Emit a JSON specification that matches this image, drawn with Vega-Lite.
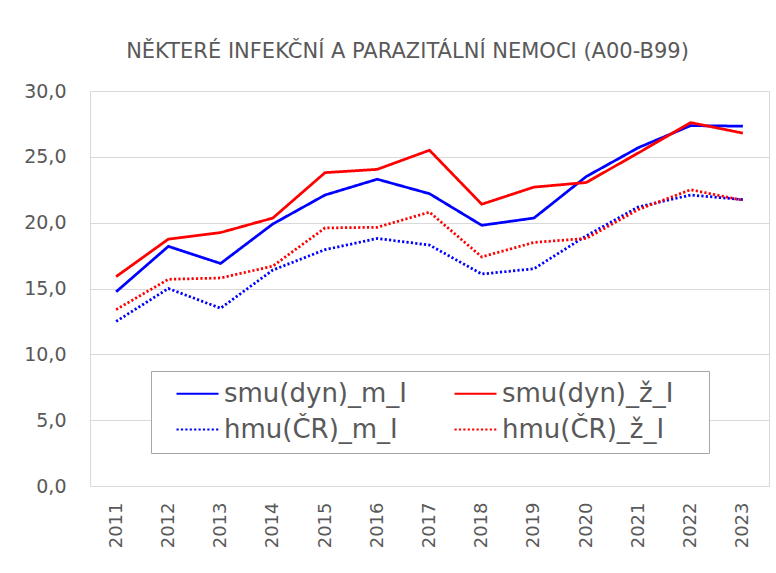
{
  "$schema": "https://vega.github.io/schema/vega-lite/v6.json",
  "width": 679,
  "height": 395,
  "autosize": {"type": "none"},
  "padding": {"left": 90, "top": 91, "right": 7, "bottom": 87},
  "background": "white",
  "title": {
    "text": "NĚKTERÉ INFEKČNÍ A PARAZITÁLNÍ NEMOCI (A00-B99)",
    "font": "DejaVu Sans",
    "fontSize": 21,
    "fontWeight": "normal",
    "color": "#595959",
    "anchor": "middle",
    "dx": -22,
    "offset": 20
  },
  "data": {
    "values": [
      {"year": "2011", "series": "smu(dyn)_m_I", "value": 14.75},
      {"year": "2012", "series": "smu(dyn)_m_I", "value": 18.2},
      {"year": "2013", "series": "smu(dyn)_m_I", "value": 16.9},
      {"year": "2014", "series": "smu(dyn)_m_I", "value": 19.9},
      {"year": "2015", "series": "smu(dyn)_m_I", "value": 22.1},
      {"year": "2016", "series": "smu(dyn)_m_I", "value": 23.3},
      {"year": "2017", "series": "smu(dyn)_m_I", "value": 22.2},
      {"year": "2018", "series": "smu(dyn)_m_I", "value": 19.8},
      {"year": "2019", "series": "smu(dyn)_m_I", "value": 20.35},
      {"year": "2020", "series": "smu(dyn)_m_I", "value": 23.5},
      {"year": "2021", "series": "smu(dyn)_m_I", "value": 25.7},
      {"year": "2022", "series": "smu(dyn)_m_I", "value": 27.37},
      {"year": "2023", "series": "smu(dyn)_m_I", "value": 27.33},
      {"year": "2011", "series": "smu(dyn)_ž_I", "value": 15.9},
      {"year": "2012", "series": "smu(dyn)_ž_I", "value": 18.75},
      {"year": "2013", "series": "smu(dyn)_ž_I", "value": 19.25},
      {"year": "2014", "series": "smu(dyn)_ž_I", "value": 20.35},
      {"year": "2015", "series": "smu(dyn)_ž_I", "value": 23.8},
      {"year": "2016", "series": "smu(dyn)_ž_I", "value": 24.05},
      {"year": "2017", "series": "smu(dyn)_ž_I", "value": 25.5},
      {"year": "2018", "series": "smu(dyn)_ž_I", "value": 21.4},
      {"year": "2019", "series": "smu(dyn)_ž_I", "value": 22.7},
      {"year": "2020", "series": "smu(dyn)_ž_I", "value": 23.05},
      {"year": "2021", "series": "smu(dyn)_ž_I", "value": 25.3},
      {"year": "2022", "series": "smu(dyn)_ž_I", "value": 27.6},
      {"year": "2023", "series": "smu(dyn)_ž_I", "value": 26.8},
      {"year": "2011", "series": "hmu(ČR)_m_I", "value": 12.5},
      {"year": "2012", "series": "hmu(ČR)_m_I", "value": 15.0},
      {"year": "2013", "series": "hmu(ČR)_m_I", "value": 13.5},
      {"year": "2014", "series": "hmu(ČR)_m_I", "value": 16.4},
      {"year": "2015", "series": "hmu(ČR)_m_I", "value": 17.95},
      {"year": "2016", "series": "hmu(ČR)_m_I", "value": 18.8},
      {"year": "2017", "series": "hmu(ČR)_m_I", "value": 18.3},
      {"year": "2018", "series": "hmu(ČR)_m_I", "value": 16.1},
      {"year": "2019", "series": "hmu(ČR)_m_I", "value": 16.5},
      {"year": "2020", "series": "hmu(ČR)_m_I", "value": 19.0},
      {"year": "2021", "series": "hmu(ČR)_m_I", "value": 21.2},
      {"year": "2022", "series": "hmu(ČR)_m_I", "value": 22.1},
      {"year": "2023", "series": "hmu(ČR)_m_I", "value": 21.75},
      {"year": "2011", "series": "hmu(ČR)_ž_I", "value": 13.4},
      {"year": "2012", "series": "hmu(ČR)_ž_I", "value": 15.7},
      {"year": "2013", "series": "hmu(ČR)_ž_I", "value": 15.8},
      {"year": "2014", "series": "hmu(ČR)_ž_I", "value": 16.7},
      {"year": "2015", "series": "hmu(ČR)_ž_I", "value": 19.6},
      {"year": "2016", "series": "hmu(ČR)_ž_I", "value": 19.65},
      {"year": "2017", "series": "hmu(ČR)_ž_I", "value": 20.8},
      {"year": "2018", "series": "hmu(ČR)_ž_I", "value": 17.4},
      {"year": "2019", "series": "hmu(ČR)_ž_I", "value": 18.5},
      {"year": "2020", "series": "hmu(ČR)_ž_I", "value": 18.8},
      {"year": "2021", "series": "hmu(ČR)_ž_I", "value": 21.0},
      {"year": "2022", "series": "hmu(ČR)_ž_I", "value": 22.5},
      {"year": "2023", "series": "hmu(ČR)_ž_I", "value": 21.7}
    ]
  },
  "mark": {"type": "line", "strokeWidth": 2.75, "strokeCap": "butt"},
  "encoding": {
    "x": {
      "field": "year",
      "type": "ordinal",
      "scale": {"type": "point", "padding": 0.5},
      "axis": {
        "title": null,
        "labelAngle": -90,
        "labelFont": "DejaVu Sans",
        "labelFontSize": 18,
        "labelColor": "#595959",
        "labelPadding": 16,
        "ticks": false,
        "domain": false,
        "grid": false
      }
    },
    "y": {
      "field": "value",
      "type": "quantitative",
      "scale": {"domain": [0, 30], "nice": false},
      "axis": {
        "title": null,
        "values": [0, 5, 10, 15, 20, 25, 30],
        "labelExpr": "replace(format(datum.value, '.1f'), '.', ',')",
        "labelFont": "DejaVu Sans",
        "labelFontSize": 19,
        "labelColor": "#595959",
        "labelPadding": 24,
        "ticks": false,
        "domain": false,
        "grid": true,
        "gridColor": "#d9d9d9",
        "gridWidth": 1
      }
    },
    "color": {
      "field": "series",
      "type": "nominal",
      "sort": ["smu(dyn)_m_I", "smu(dyn)_ž_I", "hmu(ČR)_m_I", "hmu(ČR)_ž_I"],
      "scale": {
        "domain": ["smu(dyn)_m_I", "smu(dyn)_ž_I", "hmu(ČR)_m_I", "hmu(ČR)_ž_I"],
        "range": ["#0000ff", "#ff0000", "#0000ff", "#ff0000"]
      },
      "legend": {
        "title": " ",
        "titleOrient": "right",
        "titleFont": "DejaVu Sans",
        "titleFontSize": 47,
        "titleBaseline": "top",
        "titlePadding": 36,
        "orient": "none",
        "direction": "horizontal",
        "legendX": 61,
        "legendY": 280,
        "columns": 2,
        "columnPadding": 21,
        "rowPadding": 0,
        "padding": 0,
        "symbolOffset": 24,
        "strokeColor": "#a6a6a6",
        "fillColor": "white",
        "symbolType": "stroke",
        "symbolSize": 1764,
        "symbolStrokeWidth": 2.2,
        "labelFont": "DejaVu Sans",
        "labelFontSize": 26,
        "labelColor": "#595959",
        "labelOffset": 4,
        "labelLimit": 300
      }
    },
    "strokeDash": {
      "field": "series",
      "type": "nominal",
      "sort": ["smu(dyn)_m_I", "smu(dyn)_ž_I", "hmu(ČR)_m_I", "hmu(ČR)_ž_I"],
      "scale": {
        "domain": ["smu(dyn)_m_I", "smu(dyn)_ž_I", "hmu(ČR)_m_I", "hmu(ČR)_ž_I"],
        "range": [[1, 0], [1, 0], [2.2, 2.2], [2.2, 2.2]]
      },
      "legend": null
    }
  },
  "config": {
    "view": {"stroke": "#d9d9d9", "strokeWidth": 1}
  }
}
